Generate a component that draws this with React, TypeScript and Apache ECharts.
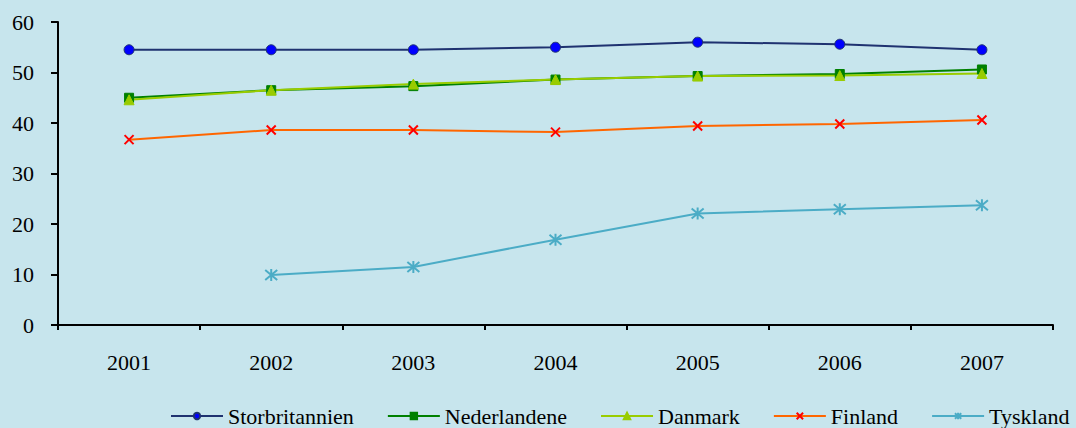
import React, { useEffect, useRef } from "react";
import * as echarts from "echarts";

const years = ["2001", "2002", "2003", "2004", "2005", "2006", "2007"];
const storbritannien = [54.5, 54.5, 54.5, 55.0, 56.0, 55.6, 54.5];
const nederlandene = [45.0, 46.5, 47.3, 48.6, 49.3, 49.7, 50.6];
const danmark = [44.6, 46.5, 47.7, 48.6, 49.3, 49.4, 49.8];
const finland = [36.7, 38.6, 38.6, 38.2, 39.4, 39.8, 40.6];
const tyskland: (number | null)[] = [null, 9.9, 11.5, 16.9, 22.1, 22.9, 23.7];

const FONT = "'Liberation Serif', 'Times New Roman', serif";
const X_PATH = "path://M0,0L10,10M10,0L0,10";
const STAR_PATH = "path://M0,0L10,10M10,0L0,10M5,-1L5,11";

export default function App() {
  const ref = useRef<HTMLDivElement>(null);
  useEffect(() => {
    if (!ref.current) return;
    const chart = echarts.init(ref.current, undefined, { renderer: "svg" });
    const mk = (
      name: string,
      data: (number | null)[],
      line: string,
      fill: string,
      border: string,
      symbol: string,
      size: number,
      bw: number
    ) => ({
      name,
      type: "line",
      data,
      symbol,
      symbolSize: size,
      showSymbol: true,
      connectNulls: false,
      lineStyle: { color: line, width: 2 },
      itemStyle: { color: fill, borderColor: border, borderWidth: bw },
      z: 3,
    });
    chart.setOption({
      animation: false,
      backgroundColor: "#c7e5ed",
      textStyle: { fontFamily: FONT },
      grid: { left: 58, right: 23, top: 22, bottom: 103 },
      legend: {
        left: 165,
        top: 400,
        itemWidth: 52,
        itemHeight: 8,
        itemGap: 33,
        textStyle: { fontFamily: FONT, fontSize: 22, color: "#000" },
        data: ["Storbritannien", "Nederlandene", "Danmark", "Finland", "Tyskland"],
      },
      xAxis: {
        type: "category",
        data: years,
        boundaryGap: true,
        axisLine: { lineStyle: { color: "#000", width: 2 } },
        axisTick: { show: true, length: 5, lineStyle: { color: "#000", width: 2 } },
        axisLabel: { color: "#000", fontSize: 22, fontFamily: FONT, margin: 26 },
      },
      yAxis: {
        type: "value",
        min: 0,
        max: 60,
        interval: 10,
        splitLine: { show: false },
        axisLine: { show: true, lineStyle: { color: "#000", width: 2 } },
        axisTick: { show: true, length: 7, lineStyle: { color: "#000", width: 2 } },
        axisLabel: { color: "#000", fontSize: 22, fontFamily: FONT, margin: 24 },
      },
      series: [
        mk("Storbritannien", storbritannien, "#1f3270", "#0000ff", "#1f3270", "circle", 10, 1),
        mk("Nederlandene", nederlandene, "#008000", "#008000", "#008000", "rect", 9, 1),
        mk("Danmark", danmark, "#99cc00", "#99cc00", "#99cc00", "triangle", 10, 1),
        mk("Finland", finland, "#ff6600", "#ff0000", "#ff0000", X_PATH, 9, 2),
        mk("Tyskland", tyskland, "#4bacc6", "#4bacc6", "#4bacc6", STAR_PATH, 12, 2),
      ],
    });
    return () => chart.dispose();
  }, []);
  return <div ref={ref} style={{ width: 1076, height: 428, position: "absolute", left: 0, top: 0 }} />;
}
